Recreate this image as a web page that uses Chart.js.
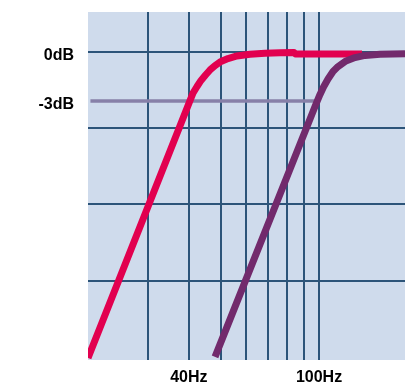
<!DOCTYPE html>
<html>
<head>
<meta charset="utf-8">
<script src="https://cdn.jsdelivr.net/npm/chart.js@4/dist/chart.umd.min.js"></script>
<style>
  html, body { margin: 0; padding: 0; background: #ffffff; }
  #wrap { width: 405px; height: 384px; position: relative; }
</style>
</head>
<body>
<div id="wrap"><canvas id="c"></canvas></div>
<script>
// Frequency response (Hz, dB)
const redHz    = [19.66, 40.05, 41.19, 42.36, 43.57, 44.98, 46.42, 48.09, 50.15, 52.69, 56.13, 61.52, 68.39, 75.99, 83.85, 84.74, 135.4];
const redDb    = [-18.73, -3.12, -2.51, -2.11, -1.74, -1.41, -1.10, -0.83, -0.58, -0.40, -0.24, -0.14, -0.07, -0.04, -0.03, -0.12, -0.12];
const purpleHz = [48.09, 97.91, 100.71, 103.22, 106.54, 110.36, 114.32, 120.95, 128.85, 138.25, 153.69, 183.2, 200];
const purpleDb = [-18.67, -3.18, -2.60, -2.14, -1.65, -1.19, -0.89, -0.55, -0.34, -0.21, -0.14, -0.11, -0.11];
const refHz    = [20, 99.5];
const refDb    = [-3, -3];
// Axis ticks / grid
const gridHz   = [30, 40, 50, 60, 70, 80, 90, 100];
const hzLabels = { 40: '40Hz', 100: '100Hz' };
const gridDb   = [0, -4.65, -9.3, -14.05];
const dbLabels = { 0: '0dB', '-3': '-3dB' };
const xMin = 19.66, xMax = 183.2, yMin = -18.86, yMax = 2.45;

const toPts = (xs, ys) => xs.map((x, i) => ({ x: x, y: ys[i] }));
const GRID = '#2c5479';

const bgPlugin = {
  id: 'bg',
  beforeDraw(chart) {
    const a = chart.chartArea, ctx = chart.ctx;
    ctx.save();
    ctx.fillStyle = '#cfdbec';
    ctx.fillRect(a.left, a.top, a.right - a.left, a.bottom - a.top);
    ctx.restore();
  }
};

new Chart(document.getElementById('c'), {
  type: 'line',
  data: {
    datasets: [
      { data: toPts(purpleHz, purpleDb), borderColor: '#722a6c', borderWidth: 7, clip: 0 },
      { data: toPts(redHz, redDb), borderColor: '#e2004f', borderWidth: 7, clip: 0 },
      { data: toPts(refHz, refDb), borderColor: '#8780a8', borderWidth: 3.5, clip: 0 }
    ]
  },
  options: {
    responsive: true,
    maintainAspectRatio: false,
    animation: false,
    events: [],
    layout: { padding: { top: 12, left: 0, right: 0, bottom: 0 } },
    elements: {
      point: { radius: 0 },
      line: { tension: 0, borderJoinStyle: 'round', borderCapStyle: 'butt', fill: false }
    },
    plugins: { legend: { display: false }, tooltip: { enabled: false } },
    scales: {
      x: {
        type: 'logarithmic',
        min: xMin, max: xMax,
        afterBuildTicks(s) { s.ticks = gridHz.map(v => ({ value: v })); },
        afterFit(s) { s.height = 24; s.paddingLeft = 0; s.paddingRight = 0; },
        border: { display: false },
        grid: { color: GRID, lineWidth: 2, drawTicks: false },
        ticks: {
          autoSkip: false, maxRotation: 0, padding: 8,
          color: '#000000',
          font: { family: '"Liberation Sans", Arial, sans-serif', weight: 'bold', size: 16 },
          callback(v) { return hzLabels[v] || ''; }
        }
      },
      y: {
        type: 'linear',
        min: yMin, max: yMax,
        afterBuildTicks(s) {
          const vals = gridDb.concat([-3]).sort((a, b) => b - a);
          s.ticks = vals.map(v => ({ value: v }));
        },
        afterFit(s) { s.width = 88; s.paddingTop = 0; s.paddingBottom = 0; },
        border: { display: false },
        grid: {
          color: c => (c.tick && c.tick.value === -3) ? 'rgba(0,0,0,0)' : GRID,
          lineWidth: 2, drawTicks: false
        },
        ticks: {
          autoSkip: false, padding: 14, labelOffset: 3.5,
          color: '#000000',
          font: { family: '"Liberation Sans", Arial, sans-serif', weight: 'bold', size: 16 },
          callback(v) { return dbLabels[v] || ''; }
        }
      }
    }
  },
  plugins: [bgPlugin]
});
</script>
</body>
</html>
